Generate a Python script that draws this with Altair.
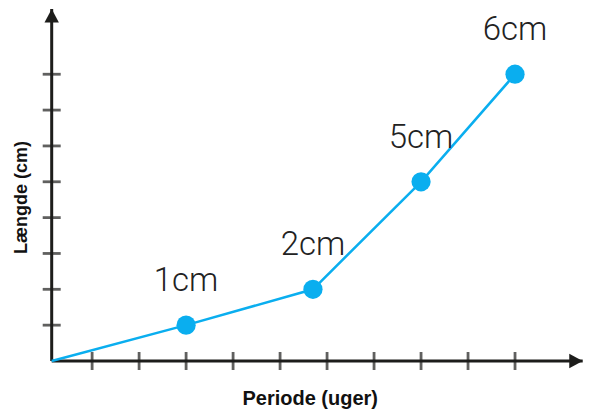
import altair as alt
import pandas as pd

# ---- data ----
period = [3, 5.7, 8, 10]          # weeks
length = [1, 2, 5, 8]             # position on the length axis
labels = ["1cm", "2cm", "5cm", "6cm"]

x_ticks = list(range(1, 11))
y_ticks = list(range(1, 9))

x_min, x_max = 0.14, 11.44
y_min, y_max = 0, 9.82

AXIS_COL = "#1d1d1b"
LINE_COL = "#0aaeef"
TITLE_FONT = "Liberation Sans, Arial, sans-serif"

X = alt.Scale(domain=[x_min, x_max], nice=False, zero=False)
Y = alt.Scale(domain=[y_min, y_max], nice=False, zero=False)

line_df = pd.DataFrame({"x": [x_min] + period, "y": [y_min] + length})
pts_df = pd.DataFrame({"x": period, "y": length, "label": labels})
xt_df = pd.DataFrame({"x": x_ticks, "y": [y_min] * len(x_ticks)})
yt_df = pd.DataFrame({"x": [x_min] * len(y_ticks), "y": y_ticks})
axes_df = pd.DataFrame({"x": [x_min, x_min], "x2": [x_max, x_min],
                        "y": [y_min, y_min], "y2": [y_min, y_max]})
arrx_df = pd.DataFrame({"x": [x_max], "y": [y_min]})
arry_df = pd.DataFrame({"x": [x_min], "y": [y_max]})

x_axis = alt.Axis(labels=False, ticks=False, domain=False, grid=False,
                  titleFont=TITLE_FONT, titleFontWeight="bold", titleFontSize=20,
                  titleColor="#111111", titleX=258, titleY=44, titleBaseline="alphabetic",
                  titleAlign="center")
y_axis = alt.Axis(labels=False, ticks=False, domain=False, grid=False,
                  titleFont=TITLE_FONT, titleFontWeight="bold", titleFontSize=18,
                  titleColor="#111111", titleX=-25.5, titleY=188, titleBaseline="alphabetic",
                  titleAlign="center", titleAngle=270)


def enc(ch):
    return ch.encode(
        x=alt.X("x:Q", scale=X, axis=x_axis, title="Periode (uger)"),
        y=alt.Y("y:Q", scale=Y, axis=y_axis, title="Længde (cm)"),
    )


axes = alt.Chart(axes_df).mark_rule(color=AXIS_COL, strokeWidth=3).encode(
    x=alt.X("x:Q", scale=X, axis=x_axis, title="Periode (uger)"),
    x2="x2:Q",
    y=alt.Y("y:Q", scale=Y, axis=y_axis, title="Længde (cm)"),
    y2="y2:Q",
)

arrow_x = enc(alt.Chart(arrx_df).mark_point(
    shape="M0,0L-2,-1.07L-2,1.07Z", size=180, filled=True, opacity=1, color=AXIS_COL, strokeWidth=0))

arrow_y = enc(alt.Chart(arry_df).mark_point(
    shape="M0,0L-1.07,2L1.07,2Z", size=180, filled=True, opacity=1, color=AXIS_COL, strokeWidth=0))

xticks = enc(alt.Chart(xt_df).mark_tick(orient="vertical", size=18, thickness=2.8, color=AXIS_COL))
yticks = enc(alt.Chart(yt_df).mark_tick(orient="horizontal", size=18, thickness=2.8, color=AXIS_COL))

line = enc(alt.Chart(line_df).mark_line(color=LINE_COL, strokeWidth=2.5))

points = enc(alt.Chart(pts_df).mark_circle(color=LINE_COL, size=370, opacity=1))

text = alt.Chart(pts_df).mark_text(
    font="Roboto", fontWeight=300, fontSize=33, color="#222222",
    dy=-34, baseline="alphabetic", align="center"
).encode(
    x=alt.X("x:Q", scale=X, axis=x_axis, title="Periode (uger)"),
    y=alt.Y("y:Q", scale=Y, axis=y_axis, title="Længde (cm)"),
    text="label:N",
)

chart = alt.layer(axes, line, xticks, yticks, arrow_x, arrow_y, points, text).properties(
    width=531, height=352,
    autosize=alt.AutoSizeParams(type="none"),
    padding={"left": 43.7, "top": 1, "right": 0, "bottom": 49},
).configure_view(stroke=None)

chart.save("out.html", embed_options={"renderer": "svg", "actions": False})
